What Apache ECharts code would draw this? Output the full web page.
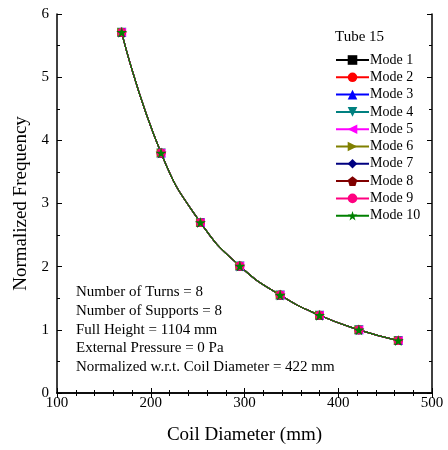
<!DOCTYPE html>
<html lang="en">
<head>
    <meta charset="UTF-8">
    <title>Tube 15 Normalized Frequency</title>
    <script src="https://cdn.jsdelivr.net/npm/echarts@6/dist/echarts.min.js"></script>
    <style>
        html, body { margin: 0; padding: 0; background: #fff; }
        #chart { width: 448px; height: 450px; }
    </style>
</head>
<body>
<div id="chart"></div>
<script type="text/javascript">
    // coil diameters (mm)
    var coilDiameter = [169, 211, 253, 295, 338, 380, 422, 464];
    // normalized frequency, all modes sit on the same curve
    var normFreq = [5.71, 3.80, 2.70, 2.01, 1.55, 1.23, 1.00, 0.83];
    var modeNames = ['Mode 1', 'Mode 2', 'Mode 3', 'Mode 4', 'Mode 5',
        'Mode 6', 'Mode 7', 'Mode 8', 'Mode 9', 'Mode 10'];
    var notes = [
        'Number of Turns = 8',
        'Number of Supports = 8',
        'Full Height = 1104 mm',
        'External Pressure = 0 Pa',
        'Normalized w.r.t. Coil Diameter = 422 mm'
    ];

    var font = '"Liberation Serif", "DejaVu Serif", Times, serif';
    var pentagon = 'path://M0,-1L0.951,-0.309L0.588,0.809L-0.588,0.809L-0.951,-0.309Z';
    var star = 'path://M0,-1L0.225,-0.309L0.951,-0.309L0.363,0.118L0.588,0.809L0,0.382L-0.588,0.809L-0.363,0.118L-0.951,-0.309L-0.225,-0.309Z';

    var styles = [
        {color: '#000000', symbol: 'rect', rotate: 0, size: 8},
        {color: '#ff0000', symbol: 'circle', rotate: 0, size: 9},
        {color: '#0000ff', symbol: 'triangle', rotate: 0, size: 9},
        {color: '#008080', symbol: 'triangle', rotate: 180, size: 9},
        {color: '#ff00ff', symbol: 'triangle', rotate: 90, size: 9},
        {color: '#808000', symbol: 'triangle', rotate: -90, size: 9},
        {color: '#000080', symbol: 'diamond', rotate: 0, size: 9},
        {color: '#800000', symbol: pentagon, rotate: 0, size: 9},
        {color: '#ff0080', symbol: 'circle', rotate: 0, size: 9},
        {color: '#008000', symbol: star, rotate: 0, size: 11}
    ];

    var series = modeNames.map(function (name, i) {
        var pts = coilDiameter.map(function (x, j) { return [x, normFreq[j]]; });
        return {
            name: name,
            type: 'line',
            smooth: true,
            data: pts,
            symbol: styles[i].symbol,
            symbolRotate: styles[i].rotate,
            symbolSize: styles[i].size,
            showAllSymbol: true,
            itemStyle: {color: styles[i].color},
            lineStyle: {color: styles[i].color, width: 1.2}
        };
    });

    var tickStyle = {show: true, inside: true, length: 5, lineStyle: {color: '#000', width: 1}};
    var minorStyle = {show: true, length: 3, lineStyle: {color: '#000', width: 1}};

    var chart = echarts.init(document.getElementById('chart'));
    chart.setOption({
        animation: false,
        backgroundColor: '#fff',
        textStyle: {fontFamily: font},
        grid: {left: 57, right: 16, top: 14, bottom: 57},
        legend: {
            orient: 'vertical',
            left: 335,
            top: 53,
            padding: 0,
            itemWidth: 33,
            itemHeight: 12,
            itemGap: 3.3,
            textStyle: {fontFamily: font, fontSize: 14, color: '#000', padding: [0, 0, 0, -4]},
            data: modeNames
        },
        graphic: [
            {
                type: 'text', left: 335, top: 30,
                style: {text: 'Tube 15', font: '15px ' + font, fill: '#000'}
            },
            {
                type: 'text', left: 76, top: 283,
                style: {text: notes.join('\n'), font: '15px ' + font, lineHeight: 18.7, fill: '#000'}
            }
        ],
        xAxis: [
            {
                type: 'value', min: 100, max: 500, interval: 100,
                name: 'Coil Diameter (mm)', nameLocation: 'middle', nameGap: 33,
                nameTextStyle: {fontFamily: font, fontSize: 19, color: '#000'},
                axisLine: {lineStyle: {color: '#000', width: 1.5}},
                axisTick: tickStyle,
                minorTick: Object.assign({splitNumber: 5}, minorStyle),
                axisLabel: {fontFamily: font, fontSize: 15, color: '#000', margin: 3},
                splitLine: {show: false}
            },
            {
                type: 'value', position: 'top', min: 100, max: 500, interval: 100,
                axisLine: {show: true, lineStyle: {color: '#000', width: 1.5}},
                axisTick: tickStyle,
                minorTick: Object.assign({splitNumber: 5}, minorStyle),
                axisLabel: {show: false},
                splitLine: {show: false}
            }
        ],
        yAxis: [
            {
                type: 'value', min: 0, max: 6, interval: 1,
                name: 'Normalized Frequency', nameLocation: 'middle', nameGap: 24,
                nameTextStyle: {fontFamily: font, fontSize: 19, color: '#000'},
                axisLine: {show: true, lineStyle: {color: '#000', width: 1.5}},
                axisTick: tickStyle,
                minorTick: Object.assign({splitNumber: 2}, minorStyle),
                axisLabel: {fontFamily: font, fontSize: 15, color: '#000', margin: 8},
                splitLine: {show: false}
            },
            {
                type: 'value', position: 'right', min: 0, max: 6, interval: 1,
                axisLine: {show: true, lineStyle: {color: '#000', width: 1.5}},
                axisTick: tickStyle,
                minorTick: Object.assign({splitNumber: 2}, minorStyle),
                axisLabel: {show: false},
                splitLine: {show: false}
            }
        ],
        series: series
    });
</script>
</body>
</html>
